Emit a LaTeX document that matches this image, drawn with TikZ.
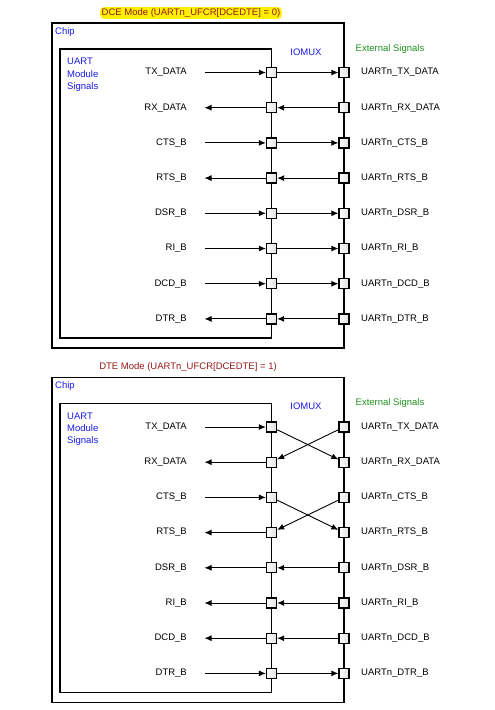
\documentclass[tikz,border=0pt]{standalone}
\usepackage{fontspec}
\setmainfont{Liberation Sans}
\usetikzlibrary{arrows.meta}

\definecolor{modered}{RGB}{150,25,25}
\definecolor{hilite}{RGB}{255,240,0}
\definecolor{labblue}{RGB}{25,25,235}
\definecolor{labgreen}{RGB}{30,145,30}

\tikzset{
  pad/.style={shape=rectangle, draw=black, line width=1.3pt, left color=white, right color=gray!25, minimum size=10pt, inner sep=0pt},
  sig/.style={inner sep=0pt, font=\fontsize{9.5}{11}\selectfont},
  note/.style={inner sep=0pt, align=left, font=\fontsize{9.5}{12.3}\selectfont},
  box/.style={draw=black, line width=1.5pt},
  wire/.style={line width=0.9pt},
  toio/.style={wire, -{Latex[length=7pt,width=6pt]}},
  fromio/.style={wire, {Latex[length=7pt,width=6pt]}-}
}

\begin{document}
\begin{tikzpicture}[x=1pt, y=-1pt]
    \useasboundingbox (0,0) rectangle (495,710);

    % DCE mode
    \node[sig, fill=hilite, rounded corners=4pt, inner sep=1.5pt, text=modered] (dcemode) at (191,13) {DCE Mode (UARTn\_UFCR[DCEDTE] = 0)};
    \draw[box] (52,23) rectangle (344,348);
    \draw[box] (60,49) -- (271.5,49) -- (271.5,338) -- (60,338) -- cycle;
    \node[note, anchor=west, text=labblue] (dcechip) at (55,32) {Chip};
    \node[note, anchor=north west, text=labblue] (dceuart) at (67,58) {UART\\Module\\Signals};
    \node[note, text=labblue] (dceiomux) at (306,52) {IOMUX};
    \node[note, text=labgreen] (dceext) at (390,49) {External Signals};

    \foreach \name/\dir [count=\i] in {TX\_DATA/toio, RX\_DATA/fromio, CTS\_B/toio, RTS\_B/fromio,
                                       DSR\_B/toio, RI\_B/toio, DCD\_B/toio, DTR\_B/fromio} {
        \pgfmathsetmacro\y{72.5+35.2*(\i-1)}
        \node[sig, anchor=east] (dcesig\i) at (187,\y) {\name};
        \node[sig, anchor=west] (dceout\i) at (361,\y) {UARTn\_\name};
        \node[pad] (dceL\i) at (271.5,\y) {};
        \node[pad] (dceR\i) at (344,\y) {};
        \coordinate (dceend\i) at (204.5,\y);
        \path[\dir] (dceend\i) edge (dceL\i) (dceL\i) edge (dceR\i);
    }

    % DTE mode
    \begin{scope}[yshift=-354.5pt]
    \node[sig, text=modered] (dtemode) at (188,12.5) {DTE Mode (UARTn\_UFCR[DCEDTE] = 1)};
    \draw[box] (52,23) rectangle (344,348);
    \draw[box] (60,49) -- (271.5,49) -- (271.5,338) -- (60,338) -- cycle;
    \node[note, anchor=west, text=labblue] (dtechip) at (55,32) {Chip};
    \node[note, anchor=north west, text=labblue] (dteuart) at (67,58) {UART\\Module\\Signals};
    \node[note, text=labblue] (dteiomux) at (306,52) {IOMUX};
    \node[note, text=labgreen] (dteext) at (390,49) {External Signals};

    \foreach \name/\dir [count=\i] in {TX\_DATA/toio, RX\_DATA/fromio, CTS\_B/toio, RTS\_B/fromio,
                                       DSR\_B/fromio, RI\_B/fromio, DCD\_B/fromio, DTR\_B/toio} {
        \pgfmathsetmacro\y{72.5+35.2*(\i-1)}
        \node[sig, anchor=east] (dtesig\i) at (187,\y) {\name};
        \node[sig, anchor=west] (dteout\i) at (361,\y) {UARTn\_\name};
        \node[pad] (dteL\i) at (271.5,\y) {};
        \node[pad] (dteR\i) at (344,\y) {};
        \coordinate (dteend\i) at (204.5,\y);
        \path[\dir] (dteend\i) edge (dteL\i);
    }
    % crossed pairs
    \path[toio] (dteL1) edge (dteR2) (dteR1) edge (dteL2);
    \path[toio] (dteL3) edge (dteR4) (dteR3) edge (dteL4);
    \path[fromio] (dteL5) edge (dteR5) (dteL6) edge (dteR6) (dteL7) edge (dteR7);
    \path[toio] (dteL8) edge (dteR8);
    \end{scope}
\end{tikzpicture}
\end{document}
